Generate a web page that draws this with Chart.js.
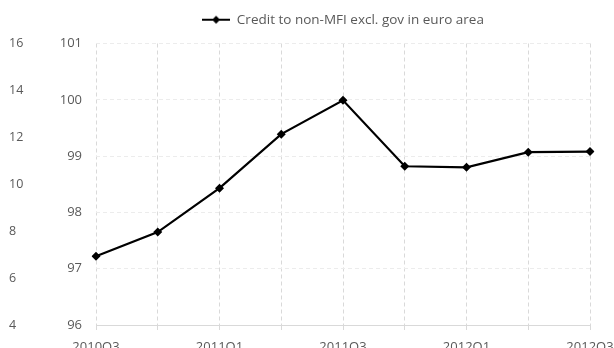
<!DOCTYPE html>
<html>
<head>
<meta charset="utf-8">
<script src="https://cdn.jsdelivr.net/npm/chart.js@4/dist/chart.umd.min.js"></script>
<style>
html,body{margin:0;padding:0;background:#fff;}
#wrap{width:614px;height:348px;position:relative;}
</style>
</head>
<body>
<div id="wrap"><canvas id="c" width="614" height="348"></canvas></div>
<script>
const categories = ["2010Q3","2010Q4","2011Q1","2011Q2","2011Q3","2011Q4","2012Q1","2012Q2","2012Q3"];
const creditValues = [97.22, 97.65, 98.43, 99.39, 99.99, 98.82, 98.80, 99.07, 99.08];
const seriesName = "Credit to non-MFI excl. gov in euro area";
const innerAxisRange = [96, 101];
const outerAxisRange = [4, 16];

const FONT = "'Open Sans', sans-serif";
const TEXT = '#595959';

// legend marker: line with diamond
const mk = document.createElement('canvas');
mk.width = 28; mk.height = 10;
(function(){
  const g = mk.getContext('2d');
  g.strokeStyle = '#000'; g.lineWidth = 2;
  g.beginPath(); g.moveTo(0,5); g.lineTo(28,5); g.stroke();
  g.fillStyle = '#000';
  g.beginPath(); g.moveTo(14,1); g.lineTo(18,5); g.lineTo(14,9); g.lineTo(10,5); g.closePath(); g.fill();
})();

const legendSpace = {
  id: 'legendSpace',
  beforeLayout(chart) {
    const lg = chart.legend;
    if (lg && !lg._patched) {
      const f = lg.fit.bind(lg);
      lg.fit = function() { f(); this.height += 7; };
      lg._patched = true;
    }
  }
};

new Chart(document.getElementById('c'), {
  type: 'line',
  data: {
    labels: categories,
    datasets: [{
      label: seriesName,
      data: creditValues,
      yAxisID: 'y',
      borderColor: '#000',
      backgroundColor: '#000',
      borderWidth: 2.2,
      pointStyle: 'rectRot',
      pointRadius: 4.5,
      pointBorderWidth: 0,
      tension: 0,
      fill: false
    }]
  },
  plugins: [legendSpace],
  options: {
    responsive: false,
    animation: false,
    layout: { padding: { left: 9, right: 24, top: 3, bottom: 0 } },
    plugins: {
      tooltip: { enabled: false },
      legend: {
        position: 'top',
        fullSize: false,
        labels: {
          color: TEXT,
          font: { family: FONT, size: 13.5 },
          usePointStyle: true,
          pointStyleWidth: 28,
          padding: 10,
          generateLabels: (chart) => [{
            text: seriesName, pointStyle: mk, fillStyle: '#000', strokeStyle: '#000',
            lineWidth: 0, hidden: false, datasetIndex: 0, fontColor: TEXT
          }]
        }
      }
    },
    scales: {
      x: {
        type: 'category',
        offset: false,
        grid: { display: true, color: '#d9d9d9', drawTicks: true, tickLength: 5, tickBorderDash: [] },
        border: { display: true, color: '#d9d9d9', width: 1, dash: [4, 3] },
        ticks: {
          color: TEXT, font: { family: FONT, size: 13 }, padding: 9,
          autoSkip: false, maxRotation: 0,
          callback: function(v, i) { return i % 2 === 0 ? this.getLabelForValue(v) : ''; }
        },
        afterFit: (s) => { s.height = 23; s.paddingLeft = 0; s.paddingRight = 0; }
      },
      y: {
        position: 'left',
        weight: 0,
        min: innerAxisRange[0], max: innerAxisRange[1],
        grid: { display: true, color: '#ececec', drawTicks: false },
        border: { display: false, dash: [4, 3] },
        ticks: { stepSize: 1, color: TEXT, font: { family: FONT, size: 13 }, padding: 14 },
        afterFit: (s) => { s.width = 47; }
      },
      y2: {
        position: 'left',
        weight: 1,
        min: outerAxisRange[0], max: outerAxisRange[1],
        grid: { display: false, drawTicks: false },
        border: { display: false },
        ticks: { stepSize: 2, color: TEXT, font: { family: FONT, size: 12.5 }, crossAlign: 'far', padding: 0 },
        afterFit: (s) => { s.width = 40; }
      }
    }
  }
});
</script>
</body>
</html>
